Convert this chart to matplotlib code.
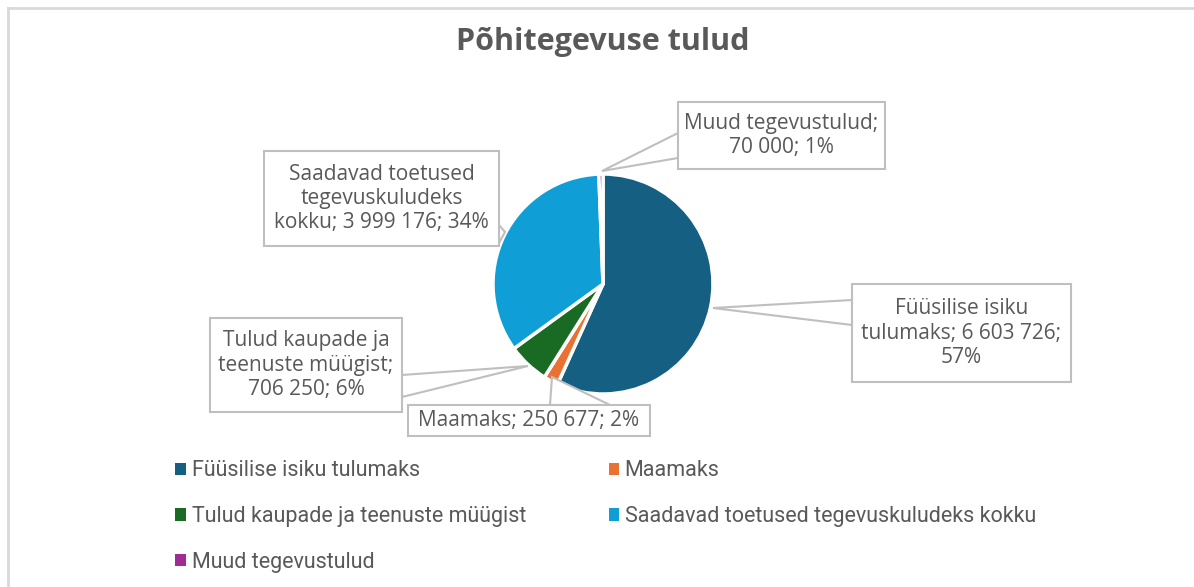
import textwrap
import matplotlib.pyplot as plt
from matplotlib.patches import Rectangle, Polygon

# andmed
categories = ["Füüsilise isiku tulumaks", "Maamaks", "Tulud kaupade ja teenuste müügist",
              "Saadavad toetused tegevuskuludeks kokku", "Muud tegevustulud"]
values = [6603726, 250677, 706250, 3999176, 70000]
colors = ["#156082", "#E97132", "#196B24", "#0F9ED5", "#A02B93"]
title = "Põhitegevuse tulud"

W, H = 1194, 587
GRAY = "#595959"
EDGE = "#bfbfbf"
FONT = ["Open Sans", "DejaVu Sans"]


def py(y):
    # pikslikoordinaat ülevalt -> telje koordinaat
    return H - y


def fmt(v):
    return f"{v:,}".replace(",", " ")


fig = plt.figure(figsize=(W / 100, H / 100), dpi=100)
ax = fig.add_axes([0, 0, 1, 1])

wedges, _ = ax.pie(values, colors=colors, startangle=90, counterclock=False,
                   center=(603, py(284)), radius=110,
                   wedgeprops=dict(edgecolor="white", linewidth=2.5))
ax.set_xlim(0, W)
ax.set_ylim(0, H)
ax.set_aspect("equal")
ax.axis("off")

# raam
ax.plot([8, W], [py(8), py(8)], color="#d9d9d9", lw=2)
ax.plot([8, 8], [py(8), 0], color="#d9d9d9", lw=2)

ax.text(603, py(42), title, ha="center", va="center", fontsize=22,
        fontweight="bold", color=GRAY, family=FONT)

# siltide kastid: (x0, y0, x1, y1), mähkimise laius, osuti (tipp, alus1, alus2)
boxes = [
    ((852, 284, 1071, 382), 20, ((713, 308), (852, 300), (852, 325))),
    ((408, 405, 650, 436), 30, ((552, 377), (550, 405), (610, 405))),
    ((210, 318, 402, 412), 17, ((528, 366), (402, 375), (402, 397))),
    ((264, 151, 499, 246), 21, ((505, 232), (499, 225), (499, 243))),
    ((678, 102, 885, 169), 18, ((602, 171), (678, 133), (678, 158))),
]

total = sum(values)
for name, v, (box, wrap, ptr) in zip(categories, values, boxes):
    label = f"{name}; {fmt(v)}; {round(v / total * 100)}%"
    label = textwrap.fill(label, wrap)
    x0, y0, x1, y1 = box
    tip, b1, b2 = ptr
    ax.add_patch(Polygon([(tip[0], py(tip[1])), (b1[0], py(b1[1])), (b2[0], py(b2[1]))],
                         closed=True, facecolor="white", edgecolor=EDGE, lw=1.5, zorder=3))
    ax.add_patch(Rectangle((x0, py(y1)), x1 - x0, y1 - y0, facecolor="white",
                           edgecolor=EDGE, lw=1.5, zorder=4))
    ax.text((x0 + x1) / 2, py((y0 + y1) / 2), label, ha="center", va="center",
            fontsize=15, color=GRAY, family=FONT, linespacing=1.2, zorder=5)

# legend, ridade kaupa nagu Excelis
order = [0, 2, 4, 1, 3]
leg = ax.legend([wedges[i] for i in order], [categories[i] for i in order],
                ncol=2, loc="upper left", bbox_to_anchor=(156 / W, 1 - 441 / H),
                frameon=False, handlelength=0.5, handleheight=0.5, handletextpad=0.25,
                columnspacing=3.84, labelspacing=1.15,
                prop=dict(family=["Roboto", "DejaVu Sans"], size=15.5))
for t in leg.get_texts():
    t.set_color(GRAY)
for h in leg.legend_handles:
    h.set_edgecolor("none")

fig.savefig("out.png", dpi=100)
